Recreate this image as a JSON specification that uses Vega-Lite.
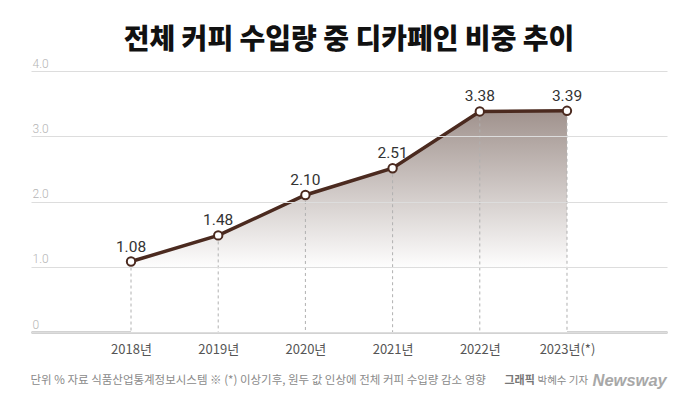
{
  "$schema": "https://vega.github.io/schema/vega-lite/v6.json",
  "autosize": "none",
  "width": 636,
  "height": 261,
  "padding": {"left": 31, "top": 71, "right": 33, "bottom": 70},
  "background": "#ffffff",
  "config": {"view": {"stroke": null}},
  "title": {
    "text": "전체 커피 수입량 중 디카페인 비중 추이",
    "font": "Noto Sans CJK KR",
    "fontWeight": 900,
    "fontSize": 28,
    "color": "#111111",
    "anchor": "middle",
    "frame": "group",
    "offset": 2
  },
  "data": {
    "values": [
      {"year": 2018, "value": 1.08},
      {"year": 2019, "value": 1.48},
      {"year": 2020, "value": 2.10},
      {"year": 2021, "value": 2.51},
      {"year": 2022, "value": 3.38},
      {"year": 2023, "value": 3.39}
    ]
  },
  "resolve": {"axis": {"x": "independent", "y": "independent"}},
  "layer": [
    {
      "mark": {
        "type": "area",
        "color": {
          "gradient": "linear",
          "x1": 0, "y1": 0, "x2": 0, "y2": 1,
          "stops": [
            {"offset": 0, "color": "#a0928d"},
            {"offset": 0.72, "color": "#ffffff"},
            {"offset": 1, "color": "#ffffff"}
          ]
        }
      },
      "encoding": {
        "x": {
          "field": "year", "type": "quantitative",
          "scale": {"domain": [2016.853, 2024.147], "nice": false, "zero": false},
          "axis": {
            "values": [2018, 2019, 2020, 2021, 2022, 2023],
            "labelExpr": "datum.value == 2023 ? '2023년(*)' : datum.value + '년'",
            "labelAngle": 0,
            "labelFont": "Noto Sans CJK KR",
            "labelFontSize": 13,
            "labelFontWeight": 400,
            "labelColor": "#555555",
            "labelPadding": 11,
            "labelFlush": false,
            "labelOverlap": false,
            "ticks": false,
            "tickSize": 0,
            "domain": true,
            "domainColor": "#a5a5a5",
            "domainWidth": 2,
            "grid": false,
            "title": "단위 %   자료 식품산업통계정보시스템   ※ (*) 이상기후, 원두 값 인상에 전체 커피 수입량 감소 영향",
            "titleFont": "Noto Sans CJK KR",
            "titleFontSize": 11.5,
            "titleFontWeight": 400,
            "titleColor": "#8a8a8a",
            "titleAlign": "left",
            "titleBaseline": "middle",
            "titleX": -1,
            "titleY": 48
          }
        },
        "y": {
          "field": "value", "type": "quantitative",
          "scale": {"domain": [0, 4]},
          "axis": {
            "values": [0, 1, 2, 3, 4],
            "labelExpr": "datum.value == 0 ? '0' : format(datum.value, '.1f')",
            "labelFont": "Roboto",
            "labelFontWeight": 300,
            "labelFontSize": 12,
            "labelColor": "#b5b5b5",
            "labelAlign": "left",
            "labelBaseline": "alphabetic",
            "labelPadding": -1,
            "labelOffset": -4,
            "ticks": false,
            "tickSize": 0,
            "domain": false,
            "grid": true,
            "gridColor": "#dddddd",
            "gridWidth": 1,
            "zindex": 1,
            "title": "그래픽",
            "titleFont": "Noto Sans CJK KR",
            "titleFontSize": 11,
            "titleFontWeight": 700,
            "titleColor": "#777777",
            "titleAngle": 0,
            "titleAlign": "left",
            "titleBaseline": "middle",
            "titleX": 473,
            "titleY": 309
          }
        }
      }
    },
    {
      "mark": {"type": "rule", "color": "#b0b0b0", "strokeWidth": 1, "strokeDash": [3, 3]},
      "encoding": {
        "x": {"field": "year", "type": "quantitative", "axis": null},
        "y": {"field": "value", "type": "quantitative", "axis": null},
        "y2": {"datum": 0}
      }
    },
    {
      "mark": {"type": "line", "color": "#4b2a1f", "strokeWidth": 3.5},
      "encoding": {
        "x": {"field": "year", "type": "quantitative", "axis": null},
        "y": {"field": "value", "type": "quantitative", "axis": null}
      }
    },
    {
      "mark": {"type": "point", "filled": true, "fill": "#ffffff", "stroke": "#4b2a1f", "strokeWidth": 2, "size": 70, "opacity": 1},
      "encoding": {
        "x": {
          "field": "year", "type": "quantitative",
          "axis": {
            "orient": "top", "labels": false, "ticks": false, "domain": false, "grid": false,
            "title": "박혜수 기자",
            "titleFont": "Noto Sans CJK KR",
            "titleFontSize": 10.5,
            "titleFontWeight": 400,
            "titleColor": "#8a8a8a",
            "titleAlign": "left",
            "titleBaseline": "middle",
            "titleX": 506,
            "titleY": 309
          }
        },
        "y": {
          "field": "value", "type": "quantitative",
          "axis": {
            "orient": "right", "labels": false, "ticks": false, "domain": false, "grid": false,
            "title": "Newsway",
            "titleFont": "Liberation Sans",
            "titleFontSize": 16.5,
            "titleFontWeight": 700,
            "titleFontStyle": "italic",
            "titleColor": "#a8a8a8",
            "titleAngle": 0,
            "titleAlign": "left",
            "titleBaseline": "middle",
            "titleX": -75,
            "titleY": 309
          }
        }
      }
    },
    {
      "mark": {"type": "text", "font": "Roboto", "fontSize": 15.5, "fontWeight": 400, "color": "#333333", "baseline": "bottom", "dy": -7},
      "encoding": {
        "x": {"field": "year", "type": "quantitative", "axis": null},
        "y": {"field": "value", "type": "quantitative", "axis": null},
        "text": {"field": "value", "type": "quantitative", "format": ".2f"}
      }
    }
  ]
}
